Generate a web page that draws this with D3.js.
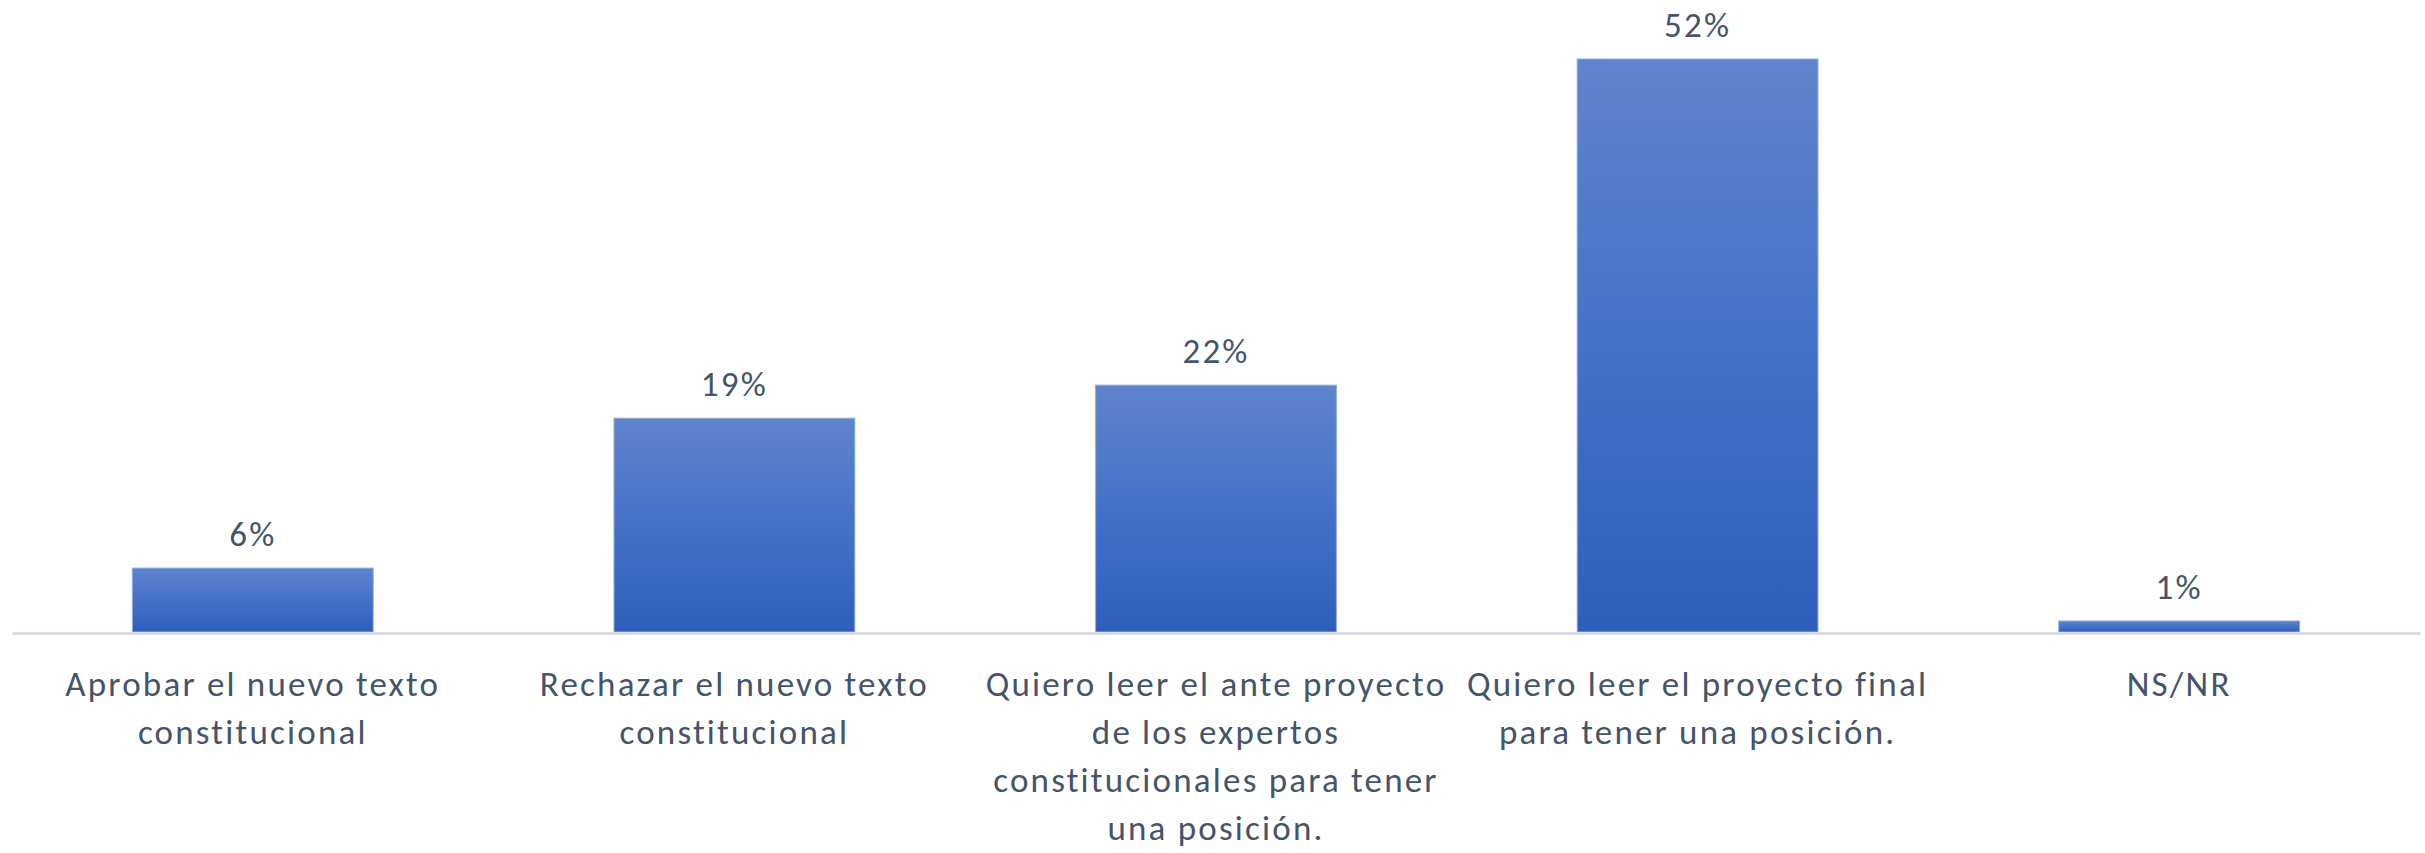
<!DOCTYPE html>
<html lang="es">
<head>
<meta charset="UTF-8">
<title>Posición frente al nuevo texto constitucional</title>
<style>
  html, body { margin: 0; padding: 0; background: #fff; }
  svg { display: block; }
  text { font-family: Carlito, Calibri, Lato, "Open Sans", sans-serif; fill: #44546a; }
</style>
</head>
<body>
<div id="chart"></div>
<script src="https://d3js.org/d3.v7.min.js"></script>
<script>
// datos
const categories = [
  "Aprobar el nuevo texto\nconstitucional",
  "Rechazar el nuevo texto\nconstitucional",
  "Quiero leer el ante proyecto\nde los expertos\nconstitucionales para tener\nuna posición.",
  "Quiero leer el proyecto final\npara tener una posición.",
  "NS/NR"
];
const values = [5.8, 19.4, 22.4, 52, 1];
const valueLabels = ["6%", "19%", "22%", "52%", "1%"];

const width = 2425, height = 853;
const plot = { left: 12, right: 2420, top: 59, bottom: 632 };

const svg = d3.select('#chart').append('svg')
  .attr('width', width)
  .attr('height', height);

// degradado de las barras
const grad = svg.append('defs').append('linearGradient')
  .attr('id', 'barGrad')
  .attr('x1', 0).attr('y1', 0).attr('x2', 0).attr('y2', 1);
grad.append('stop').attr('offset', '0%').attr('stop-color', '#6084cd');
grad.append('stop').attr('offset', '50%').attr('stop-color', '#4472c8');
grad.append('stop').attr('offset', '100%').attr('stop-color', '#2f5fbb');

const x = d3.scaleBand()
  .domain(d3.range(categories.length))
  .range([plot.left, plot.right])
  .paddingInner(0.5)
  .paddingOuter(0.25);

const y = d3.scaleLinear()
  .domain([0, 52])
  .range([plot.bottom, plot.top]);

// barras
svg.append('g').selectAll('rect')
  .data(values)
  .join('rect')
  .attr('x', (d, i) => x(i))
  .attr('y', d => y(d))
  .attr('width', x.bandwidth())
  .attr('height', d => y(0) - y(d))
  .attr('fill', 'url(#barGrad)')
  .attr('stroke', '#8eaadf')
  .attr('stroke-width', 1);

// eje x
const xAxis = d3.axisBottom(x)
  .tickSize(0)
  .tickFormat('');
const xg = svg.append('g')
  .attr('transform', `translate(0,${plot.bottom + 1})`)
  .call(xAxis);
xg.select('.domain')
  .attr('stroke', '#dadee4')
  .attr('stroke-width', 3);

// etiquetas de categoría
const catG = svg.append('g').selectAll('text')
  .data(categories)
  .join('text')
  .attr('text-anchor', 'middle')
  .attr('font-size', 35)
  .attr('letter-spacing', 2.2)
  .attr('x', (d, i) => x(i) + x.bandwidth() / 2)
  .attr('y', 696);
catG.selectAll('tspan')
  .data(d => d.split('\n'))
  .join('tspan')
  .attr('x', function () { return d3.select(this.parentNode).attr('x'); })
  .attr('dy', (d, i) => i === 0 ? 0 : 48)
  .text(d => d);

// etiquetas de valor
svg.append('g').selectAll('text')
  .data(values)
  .join('text')
  .attr('text-anchor', 'middle')
  .attr('font-size', 35)
  .attr('letter-spacing', 2.2)
  .attr('x', (d, i) => x(i) + x.bandwidth() / 2)
  .attr('y', d => y(d) - 22)
  .text((d, i) => valueLabels[i]);
</script>
</body>
</html>
